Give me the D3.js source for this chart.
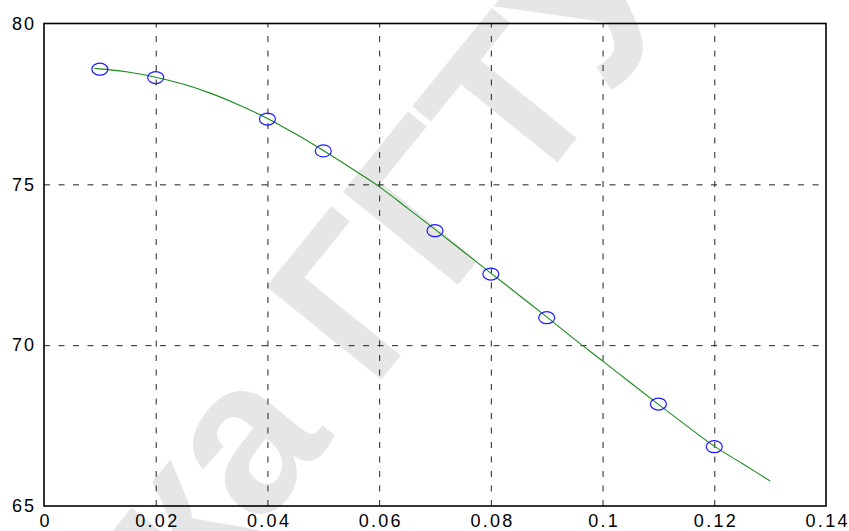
<!DOCTYPE html>
<html><head><meta charset="utf-8">
<script src="https://cdn.jsdelivr.net/npm/d3@7"></script>
<style>body{margin:0;background:#fff}svg{display:block}</style>
</head><body>
<svg id="chart" width="849" height="531"></svg>
<script>
// ---- data ----
const xTicks = [0, 0.02, 0.04, 0.06, 0.08, 0.1, 0.12, 0.14];
const xTickLabels = ["0", "0.02", "0.04", "0.06", "0.08", "0.1", "0.12", "0.14"];
const yTicks = [65, 70, 75, 80];
const yTickLabels = ["65", "70", "75", "80"];
const pointX = [0.01, 0.02, 0.04, 0.05, 0.07, 0.08, 0.09, 0.11, 0.12];
const pointY = [78.58, 78.32, 77.03, 76.04, 73.56, 72.21, 70.855, 68.17, 66.845];
const curveX = [0.009, 0.01, 0.015, 0.02, 0.025, 0.03, 0.035, 0.04, 0.045, 0.05, 0.055, 0.06, 0.065, 0.07, 0.075, 0.08, 0.085, 0.09, 0.095, 0.1, 0.105, 0.11, 0.115, 0.12, 0.125, 0.13];
const curveY = [78.6, 78.59, 78.49, 78.33, 78.11, 77.82, 77.46, 77.05, 76.57, 76.05, 75.5, 74.93, 74.27, 73.6, 72.92, 72.24, 71.56, 70.88, 70.18, 69.51, 68.83, 68.16, 67.5, 66.86, 66.32, 65.78];
const watermarkText = "Библиотека ГГТУ им. П.О. Сухого";

// ---- layout ----
const W = 849, H = 531;
const L = 44, R = 826, T = 23.5, B = 506;
const svg = d3.select("#chart");
const x = d3.scaleLinear().domain([0, 0.14]).range([L, R]);
const y = d3.scaleLinear().domain([65, 80]).range([B, T]);

// ---- watermark ----
const wmSize = 215;
const wm = svg.append("g").attr("transform", "translate(252,447) rotate(-51)");
const wt = wm.append("text")
  .attr("font-family", "Liberation Sans, Arial, sans-serif")
  .attr("font-weight", "bold")
  .attr("font-size", wmSize)
  .attr("fill", "#e6e6e6")
  .text(watermarkText);
const node = wt.node();
const aIdx = watermarkText.indexOf(" ГГТУ") - 1;
let off = 0, len = 0;
try {
  off = node.getSubStringLength(0, aIdx);
  len = node.getSubStringLength(aIdx, 1);
} catch (e) {}
wt.attr("x", -(off + len / 2)).attr("y", 0.27 * wmSize);

// ---- grid ----
const dash = "6,8.5";
svg.append("g").attr("transform", `translate(0,${B})`)
  .call(d3.axisBottom(x).tickValues(xTicks.slice(1, -1)).tickSize(-(B - T)).tickFormat(""))
  .call(g => g.select(".domain").remove())
  .selectAll("line").attr("stroke", "#222").attr("stroke-width", 1).attr("stroke-dasharray", dash);
svg.append("g").attr("transform", `translate(${L},0)`)
  .call(d3.axisLeft(y).tickValues(yTicks.slice(1, -1)).tickSize(-(R - L)).tickFormat(""))
  .call(g => g.select(".domain").remove())
  .selectAll("line").attr("stroke", "#222").attr("stroke-width", 1).attr("stroke-dasharray", dash);

// ---- box ----
svg.append("rect").attr("x", L).attr("y", T).attr("width", R - L).attr("height", B - T)
  .attr("fill", "none").attr("stroke", "#000").attr("stroke-width", 1.6);

// ---- axes labels ----
const fontFam = "Liberation Sans, Arial, Helvetica, sans-serif";
const xa = svg.append("g").attr("transform", `translate(0,${B})`)
  .call(d3.axisBottom(x).tickValues(xTicks).tickSize(0).tickPadding(8)
    .tickFormat((d, i) => xTickLabels[i]));
xa.select(".domain").remove();
xa.selectAll("text").attr("font-family", fontFam).attr("font-size", 18)
  .attr("fill", "#000").style("letter-spacing", "2.3px").attr("dx", "1.15").attr("dy", "0.71em").attr("y", 8);
const ya = svg.append("g").attr("transform", `translate(${L},0)`)
  .call(d3.axisLeft(y).tickValues(yTicks).tickSize(0).tickPadding(8)
    .tickFormat((d, i) => yTickLabels[i]));
ya.select(".domain").remove();
ya.selectAll("text").attr("font-family", fontFam).attr("font-size", 18)
  .attr("fill", "#000").style("letter-spacing", "2px");

// ---- curve ----
const curveData = curveX.map((v, i) => [v, curveY[i]]);
svg.append("path").datum(curveData)
  .attr("d", d3.line().x(d => x(d[0])).y(d => y(d[1])).curve(d3.curveMonotoneX))
  .attr("fill", "none").attr("stroke", "#1a8a1a").attr("stroke-width", 1.1);

// ---- points ----
svg.append("g").selectAll("ellipse").data(pointX.map((v, i) => [v, pointY[i]]))
  .join("ellipse")
  .attr("cx", d => x(d[0])).attr("cy", d => y(d[1]))
  .attr("rx", 8).attr("ry", 6)
  .attr("fill", "none").attr("stroke", "#1a1aff").attr("stroke-width", 1.2);
</script>
</body></html>
